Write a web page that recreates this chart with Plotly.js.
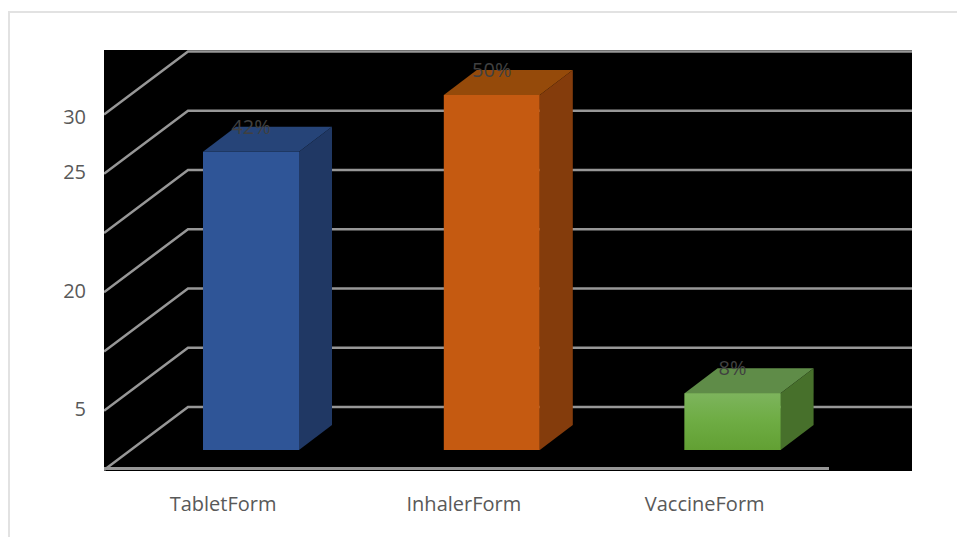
<!DOCTYPE html>
<html>
<head>
<meta charset="utf-8">
<script src="https://cdn.plot.ly/plotly-3.0.1.min.js"></script>
<style>
  html, body { margin: 0; padding: 0; background: #fff; overflow: hidden; }
  #frame { position: absolute; left: 8px; top: 11px; right: 0; bottom: 0;
           border-left: 2px solid #e2e2e2; border-top: 2px solid #e2e2e2; }
  #chart { position: absolute; left: 0; top: 0; width: 957px; height: 537px; }
</style>
</head>
<body>
<div id="frame"></div>
<div id="chart"></div>
<script>
// Share of each dosage form
const categories = ['TabletForm', 'InhalerForm', 'VaccineForm'];
const sharePercent = [42, 50, 8];

// Count axis labels and where they sit
const tickPositions = [5, 15, 25, 29.7];
const tickLabels = ['5', '20', '25', '30'];
const wallLevels = [0, 5, 10, 15, 20, 25, 30];

// Fill colours per form
const frontColors = ['#2f5597', '#c55a11', '#70ad47'];
const topColors = ['#264478', '#954a0a', '#5f8c48'];
const sideColors = ['#203864', '#843c0c', '#47702b'];

// Plot box in pixels and the scale of each axis
const W = 957, H = 537;
const box = { l: 104, r: 912, t: 50, b: 471 };
const slot = 240.8, firstCentre = 251;
const pxPerCount = 11.85, countZero = 468.5;
const pxPerPercent = 7.1, percentZero = 450;

const xRange = [(box.l - firstCentre) / slot, (box.r - firstCentre) / slot];
const countRange = [(countZero - box.b) / pxPerCount, (countZero - box.t) / pxPerCount];
const percentRange = [(percentZero - box.b) / pxPerPercent, (percentZero - box.t) / pxPerPercent];

// Oblique projection of the bars and of the floor/wall
const barWidth = 96 / slot;
const depthX = 33 / slot, depthY = 25 / pxPerPercent;
const wallLeft = xRange[0];
const wallCorner = (188 - firstCentre) / slot;
const wallBase = (countZero - 407) / pxPerCount;
const wallDrop = 63 / pxPerCount;
const floorEnd = (829 - firstCentre) / slot;

const gridStyle = { color: '#979797', width: 2.5 };
const traces = [];

// Back wall lines with their slanted run down the side wall
wallLevels.forEach(level => {
  const y = wallBase + level;
  traces.push({
    type: 'scatter', mode: 'lines', xaxis: 'x', yaxis: 'y',
    x: [wallLeft, wallCorner, xRange[1]],
    y: [y - wallDrop, y, y],
    line: gridStyle, hoverinfo: 'skip', showlegend: false
  });
});

// Front edge of the floor
traces.push({
  type: 'scatter', mode: 'lines', xaxis: 'x', yaxis: 'y',
  x: [wallLeft, floorEnd], y: [0, 0],
  line: { color: '#979797', width: 3 }, hoverinfo: 'skip', showlegend: false
});

// Front faces of the bars
traces.push({
  type: 'bar', xaxis: 'x', yaxis: 'y2',
  x: categories.map((c, i) => i), y: sharePercent, width: barWidth,
  marker: { color: frontColors, line: { width: 0 } },
  hoverinfo: 'skip', showlegend: false
});

// Top and side faces follow each bar's height
sharePercent.forEach((v, i) => {
  const x0 = i - barWidth / 2, x1 = i + barWidth / 2;
  traces.push({
    type: 'scatter', mode: 'none', fill: 'toself', xaxis: 'x', yaxis: 'y2',
    x: [x0, x1, x1 + depthX, x0 + depthX, x0],
    y: [v, v, v + depthY, v + depthY, v],
    fillcolor: topColors[i], hoverinfo: 'skip', showlegend: false
  });
  traces.push({
    type: 'scatter', mode: 'none', fill: 'toself', xaxis: 'x', yaxis: 'y2',
    x: [x1, x1 + depthX, x1 + depthX, x1, x1],
    y: [0, depthY, v + depthY, v, 0],
    fillcolor: sideColors[i], hoverinfo: 'skip', showlegend: false
  });
});

// Soft vertical shading on the short green bar
const greenIndex = 2;
const gv = sharePercent[greenIndex];
const gx0 = greenIndex - barWidth / 2, gx1 = greenIndex + barWidth / 2;
traces.push({
  type: 'scatter', mode: 'none', fill: 'toself', xaxis: 'x', yaxis: 'y2',
  x: [gx0, gx1, gx1, gx0, gx0], y: [0, 0, gv, gv, 0],
  fillgradient: { type: 'vertical', colorscale: [[0, '#62a033'], [0.55, '#6fad45'], [1, '#7db45d']] },
  hoverinfo: 'skip', showlegend: false
});

// Percentage labels resting on the back edge of each bar top
traces.push({
  type: 'scatter', mode: 'text', xaxis: 'x', yaxis: 'y2',
  x: categories.map((c, i) => i),
  y: sharePercent.map(v => v + depthY - 0.3),
  text: sharePercent.map(v => v + '%'),
  textposition: 'middle center',
  textfont: { family: 'Open Sans, sans-serif', size: 20, color: '#404040' },
  hoverinfo: 'skip', showlegend: false
});

const layout = {
  width: W, height: H,
  margin: { l: box.l, r: W - box.r, t: box.t, b: H - box.b, pad: 0 },
  paper_bgcolor: 'rgba(0,0,0,0)',
  plot_bgcolor: '#000000',
  showlegend: false,
  xaxis: {
    range: xRange, showgrid: false, zeroline: false, showline: false, ticks: '',
    tickmode: 'array',
    tickvals: categories.map((c, i) => i - 0.116),
    ticktext: categories,
    ticklabelstandoff: 19,
    tickfont: { family: 'Open Sans, sans-serif', size: 20, color: '#595959' }
  },
  yaxis: {
    range: countRange, showgrid: false, zeroline: false, showline: false, ticks: '',
    tickmode: 'array', tickvals: tickPositions, ticktext: tickLabels,
    ticklabelstandoff: 17,
    tickfont: { family: 'Open Sans, sans-serif', size: 20, color: '#595959' }
  },
  yaxis2: {
    range: percentRange, overlaying: 'y', side: 'left', visible: false,
    showgrid: false, zeroline: false
  }
};

Plotly.newPlot('chart', traces, layout, { displayModeBar: false, staticPlot: true });
</script>
</body>
</html>
